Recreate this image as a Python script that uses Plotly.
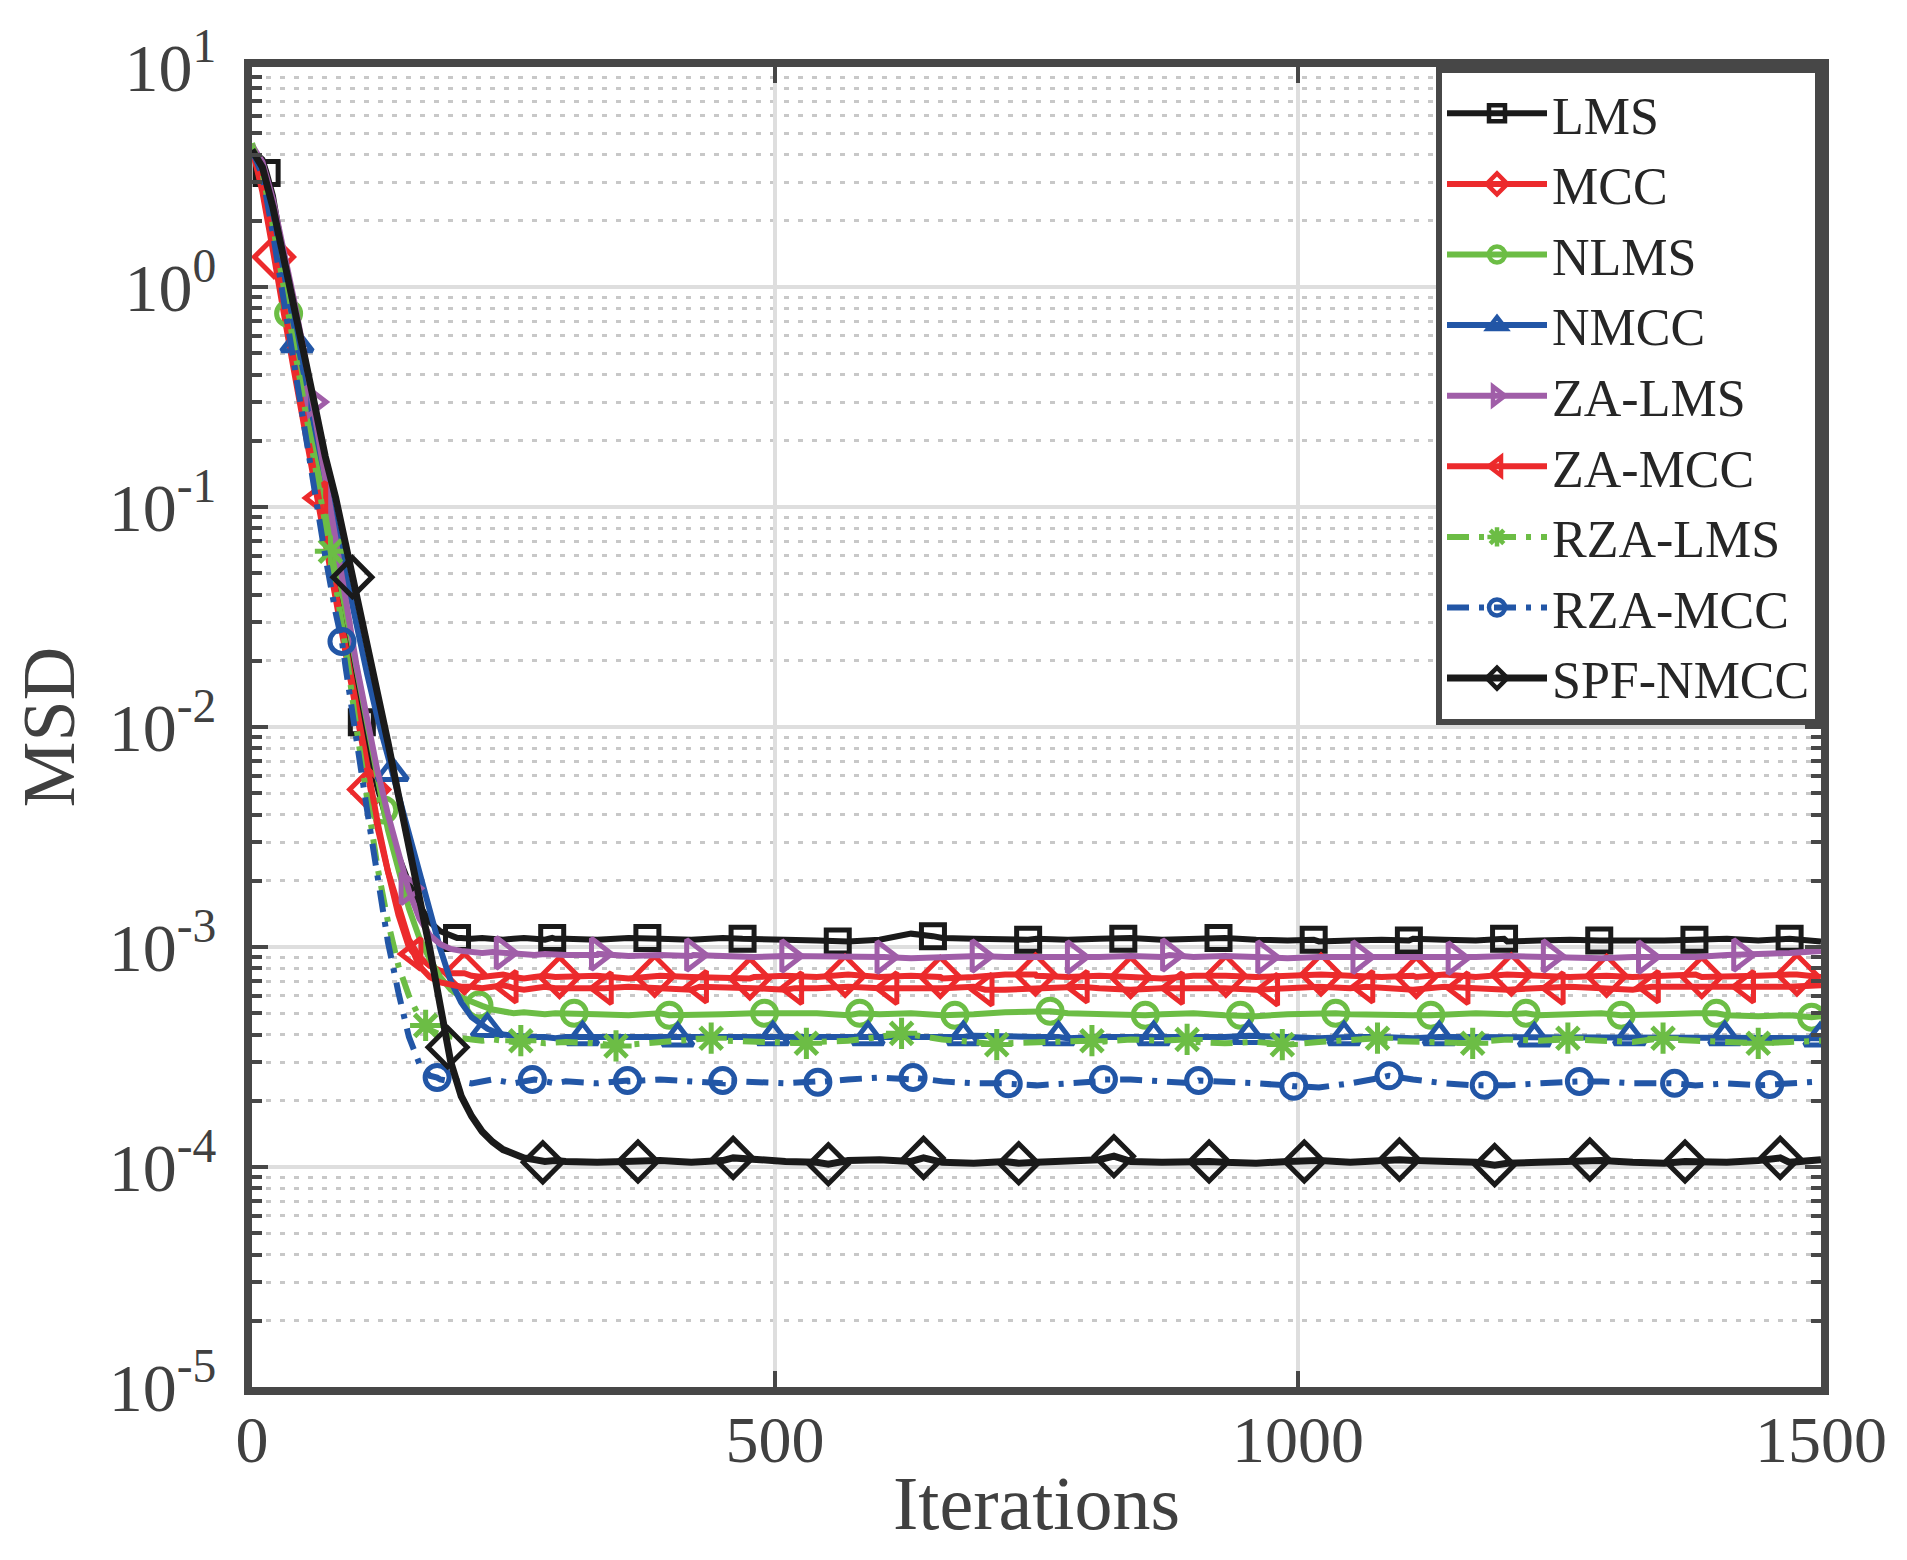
import plotly.graph_objects as go

# Iteraciones donde se leyeron las curvas
iter_trans = list(range(0, 300, 10))
iter_estable = list(range(300, 1501, 30))

# Primer marcador de cada curva y paso entre marcadores
paso_marca = 91
inicio_marca = {'LMS': 14, 'MCC': 21, 'NLMS': 35, 'NMCC': 43, 'ZA-LMS': 58,
                'ZA-MCC': 64, 'RZA-LMS': 75, 'RZA-MCC': 86, 'SPF-NMCC': 96}

# Datos (transitorio, régimen estable en unidades de 1e-4, marcadores)
lms_trans = [4.2, 3.8, 2.6, 1.36, 0.71, 0.37, 0.194, 0.101, 0.053, 0.0276, 0.0144, 8.2e-3,
             5.3e-3, 3.6e-3, 2.6e-3, 1.95e-3, 1.55e-3, 1.3e-3, 1.18e-3, 1.12e-3, 1.1e-3,
             1.09e-3, 1.1e-3, 1.09e-3, 1.08e-3, 1.09e-3, 1.1e-3, 1.09e-3, 1.08e-3, 1.09e-3]
lms_estable = [10.9, 10.8, 11.0, 10.9, 10.8, 11.0, 10.9, 10.8, 10.7, 10.6, 10.8, 11.5, 11.0, 10.9,
               10.8, 10.9, 10.8, 10.9, 11.0, 10.8, 10.9, 11.0, 10.8, 10.7, 10.6, 10.7, 10.8, 10.9,
               10.8, 10.7, 10.6, 10.7, 10.8, 10.7, 10.6, 10.7, 10.8, 10.9, 10.7, 10.8, 10.6]
lms_marcas = [3.3, 0.0105, 1.1e-3, 1.1e-3, 1.1e-3, 1.09e-3, 1.06e-3, 1.12e-3, 1.08e-3, 1.09e-3,
              1.1e-3, 1.08e-3, 1.07e-3, 1.09e-3, 1.07e-3, 1.08e-3, 1.09e-3]

mcc_trans = [4.3, 2.7, 1.47, 0.78, 0.42, 0.23, 0.125, 0.068, 0.037, 0.020, 0.0108, 5.9e-3,
             3.5e-3, 2.2e-3, 1.5e-3, 1.08e-3, 9.0e-4, 8.2e-4, 7.8e-4, 7.6e-4, 7.6e-4, 7.4e-4,
             7.3e-4, 7.4e-4, 7.5e-4, 7.3e-4, 7.2e-4, 7.3e-4, 7.4e-4, 7.3e-4]
mcc_estable = [7.3, 7.4, 7.2, 7.4, 7.3, 7.2, 7.3, 7.4, 7.3, 7.5, 7.3, 7.4, 7.2, 7.3, 7.5, 7.4,
               7.3, 7.4, 7.3, 7.2, 7.4, 7.5, 7.3, 7.4, 7.5, 7.4, 7.3, 7.4, 7.5, 7.3, 7.5, 7.4,
               7.3, 7.4, 7.3, 7.4, 7.5, 7.3, 7.4, 7.5, 7.3]
mcc_marcas = [1.37, 5.2e-3, 7.6e-4, 7.3e-4, 7.4e-4, 7.2e-4, 7.4e-4, 7.3e-4, 7.5e-4, 7.3e-4,
              7.4e-4, 7.5e-4, 7.3e-4, 7.5e-4, 7.4e-4, 7.3e-4, 7.5e-4]

nlms_trans = [4.5, 3.2, 1.9, 1.0, 0.57, 0.32, 0.18, 0.10, 0.056, 0.031, 0.0175, 9.8e-3, 5.6e-3,
              3.4e-3, 2.2e-3, 1.5e-3, 1.1e-3, 8.8e-4, 7.3e-4, 6.4e-4, 5.9e-4, 5.6e-4, 5.4e-4,
              5.2e-4, 5.1e-4, 5.0e-4, 5.05e-4, 5.0e-4, 4.95e-4, 5.0e-4]
nlms_estable = [5.0, 4.95, 4.9, 5.0, 4.9, 4.95, 5.0, 5.05, 5.0, 4.9, 4.95, 5.0, 4.9, 4.95, 5.05,
                5.1, 5.0, 4.95, 4.9, 4.95, 5.0, 4.9, 4.85, 4.95, 5.0, 4.95, 4.9, 4.9, 4.95, 5.0,
                4.95, 4.9, 4.95, 5.0, 4.9, 4.95, 5.0, 4.9, 4.85, 4.9, 4.85]
nlms_marcas = [0.757, 4.2e-3, 5.45e-4, 5.0e-4, 4.9e-4, 5.0e-4, 5.0e-4, 4.9e-4, 5.1e-4, 4.9e-4,
               4.9e-4, 5.0e-4, 4.9e-4, 5.0e-4, 4.9e-4, 5.0e-4, 4.8e-4]

nmcc_trans = [4.3, 3.4, 2.0, 1.15, 0.65, 0.39, 0.23, 0.136, 0.081, 0.048, 0.029, 0.0175, 0.011,
              7.3e-3, 5.0e-3, 3.3e-3, 2.2e-3, 1.45e-3, 9.8e-4, 7.0e-4, 5.6e-4, 4.8e-4, 4.4e-4,
              4.15e-4, 4.0e-4, 3.95e-4, 3.9e-4, 3.9e-4, 3.9e-4, 3.85e-4]
nmcc_estable = [3.9, 3.9, 3.85, 3.9, 3.85, 3.9, 3.9, 3.85, 3.9, 3.9, 3.85, 3.9, 3.9, 3.95, 3.9,
                3.9, 3.85, 3.9, 3.9, 3.85, 3.9, 3.9, 3.95, 3.9, 3.85, 3.9, 3.9, 3.85, 3.9, 3.9,
                3.85, 3.9, 3.85, 3.9, 3.9, 3.85, 3.9, 3.9, 3.85, 3.9, 3.85]
nmcc_marcas = [0.55, 6.2e-3, 4.25e-4, 3.9e-4, 3.85e-4, 3.9e-4, 3.9e-4, 3.9e-4, 3.9e-4, 3.9e-4,
               3.95e-4, 3.9e-4, 3.9e-4, 3.85e-4, 3.9e-4, 3.9e-4, 3.85e-4]

zalms_trans = [4.4, 3.7, 2.5, 1.5, 0.88, 0.5, 0.27, 0.14, 0.072, 0.037, 0.019, 0.0105, 6.3e-3,
               4.0e-3, 2.6e-3, 1.8e-3, 1.35e-3, 1.13e-3, 1.03e-3, 9.8e-4, 9.6e-4, 9.5e-4, 9.4e-4,
               9.5e-4, 9.4e-4, 9.3e-4, 9.3e-4, 9.2e-4, 9.3e-4, 9.2e-4]
zalms_estable = [9.2, 9.2, 9.1, 9.2, 9.1, 9.1, 9.0, 9.1, 9.0, 9.1, 9.0, 8.9, 9.0, 9.1, 9.0, 9.0,
                 8.9, 9.0, 9.1, 9.0, 9.0, 9.1, 9.0, 8.9, 9.0, 9.0, 8.9, 9.0, 8.9, 9.0, 9.1, 9.0,
                 9.0, 8.9, 9.0, 9.1, 9.0, 9.2, 9.3, 9.4, 9.6]
zalms_marcas = [0.3, 1.85e-3, 9.4e-4, 9.3e-4, 9.2e-4, 9.1e-4, 9.0e-4, 9.1e-4, 9.0e-4, 9.2e-4,
                9.0e-4, 9.0e-4, 8.9e-4, 9.1e-4, 9.0e-4, 9.2e-4]

zamcc_trans = [4.3, 2.8, 1.55, 0.84, 0.46, 0.25, 0.135, 0.075, 0.041, 0.022, 0.012, 6.6e-3,
               3.7e-3, 2.2e-3, 1.4e-3, 1.0e-3, 8.2e-4, 7.3e-4, 6.9e-4, 6.7e-4, 6.6e-4, 6.6e-4,
               6.5e-4, 6.6e-4, 6.7e-4, 6.5e-4, 6.4e-4, 6.5e-4, 6.6e-4, 6.5e-4]
zamcc_estable = [6.5, 6.4, 6.6, 6.5, 6.4, 6.6, 6.5, 6.4, 6.5, 6.6, 6.5, 6.4, 6.5, 6.6, 6.4, 6.5,
                 6.6, 6.5, 6.4, 6.5, 6.6, 6.5, 6.4, 6.5, 6.6, 6.5, 6.5, 6.4, 6.6, 6.5, 6.4, 6.5,
                 6.6, 6.5, 6.4, 6.6, 6.5, 6.6, 6.5, 6.6, 6.7]
zamcc_marcas = [0.11, 9.3e-4, 6.6e-4, 6.5e-4, 6.6e-4, 6.5e-4, 6.5e-4, 6.4e-4, 6.6e-4, 6.5e-4,
                6.4e-4, 6.6e-4, 6.5e-4, 6.5e-4, 6.6e-4, 6.6e-4]

rzalms_trans = [4.4, 3.3, 1.9, 1.0, 0.54, 0.29, 0.15, 0.084, 0.045, 0.022, 9.8e-3, 4.6e-3,
                2.3e-3, 1.3e-3, 8.2e-4, 6.0e-4, 4.8e-4, 4.2e-4, 4.0e-4, 3.9e-4, 3.85e-4, 3.8e-4,
                3.75e-4, 3.8e-4, 3.75e-4, 3.7e-4, 3.75e-4, 3.7e-4, 3.65e-4, 3.7e-4]
rzalms_estable = [3.7, 3.65, 3.6, 3.7, 3.8, 3.75, 3.7, 3.65, 3.7, 3.75, 3.9, 4.0, 3.8, 3.7, 3.65,
                  3.7, 3.75, 3.7, 3.8, 3.75, 3.7, 3.65, 3.7, 3.6, 3.7, 3.8, 3.75, 3.7, 3.65, 3.7,
                  3.8, 3.75, 3.8, 3.75, 3.7, 3.8, 3.75, 3.7, 3.65, 3.7, 3.75]
rzalms_marcas = [0.063, 4.4e-4, 3.75e-4, 3.55e-4, 3.85e-4, 3.65e-4, 4.05e-4, 3.6e-4, 3.75e-4,
                 3.8e-4, 3.6e-4, 3.85e-4, 3.65e-4, 3.85e-4, 3.85e-4, 3.65e-4]

rzamcc_trans = [4.2, 3.2, 1.75, 0.88, 0.44, 0.22, 0.113, 0.06, 0.033, 0.018, 8.4e-3, 4.2e-3,
                2.1e-3, 1.05e-3, 6.2e-4, 3.9e-4, 2.95e-4, 2.6e-4, 2.5e-4, 2.45e-4, 2.45e-4, 2.4e-4,
                2.45e-4, 2.5e-4, 2.45e-4, 2.4e-4, 2.45e-4, 2.5e-4, 2.45e-4, 2.4e-4]
rzamcc_estable = [2.45, 2.4, 2.45, 2.5, 2.45, 2.4, 2.45, 2.4, 2.45, 2.5, 2.55, 2.5, 2.45, 2.4,
                  2.4, 2.35, 2.4, 2.45, 2.5, 2.45, 2.4, 2.45, 2.4, 2.35, 2.3, 2.4, 2.55, 2.5, 2.4,
                  2.35, 2.35, 2.4, 2.45, 2.45, 2.4, 2.4, 2.35, 2.4, 2.35, 2.4, 2.45]
rzamcc_marcas = [0.0245, 2.55e-4, 2.5e-4, 2.47e-4, 2.47e-4, 2.43e-4, 2.55e-4, 2.39e-4, 2.5e-4,
                 2.47e-4, 2.33e-4, 2.6e-4, 2.35e-4, 2.45e-4, 2.4e-4, 2.37e-4]

spf_trans = [4.2, 3.5, 2.3, 1.4, 0.83, 0.49, 0.29, 0.17, 0.11, 0.066, 0.040, 0.025, 0.0145,
             8.5e-3, 4.9e-3, 2.9e-3, 1.7e-3, 9.8e-4, 5.4e-4, 3.0e-4, 2.1e-4, 1.7e-4, 1.45e-4,
             1.3e-4, 1.2e-4, 1.14e-4, 1.1e-4, 1.08e-4, 1.06e-4, 1.07e-4]
spf_estable = [1.06, 1.05, 1.06, 1.07, 1.05, 1.07, 1.08, 1.06, 1.05, 1.07, 1.08, 1.06, 1.05, 1.04,
               1.06, 1.05, 1.07, 1.08, 1.06, 1.05, 1.06, 1.05, 1.04, 1.06, 1.07, 1.05, 1.08, 1.07,
               1.06, 1.05, 1.04, 1.05, 1.06, 1.07, 1.05, 1.04, 1.06, 1.05, 1.07, 1.05, 1.08]
spf_marcas = [0.048, 3.5e-4, 1.05e-4, 1.06e-4, 1.1e-4, 1.03e-4, 1.1e-4, 1.04e-4, 1.12e-4,
              1.06e-4, 1.06e-4, 1.08e-4, 1.02e-4, 1.08e-4, 1.06e-4, 1.1e-4]

# Estilo de cada curva: nombre, datos, color, trazo, símbolo, tamaño, grosor
negro = '#1a1a1a'
rojo = '#ec2a2c'
verde = '#6cbd45'
azul = '#2256a6'
morado = '#a05ea8'
punteado = '22px,10px,5px,10px'

curvas = [
    ('LMS', lms_trans, lms_estable, lms_marcas, negro, 'solid', 'square-open', 23, 6),
    ('MCC', mcc_trans, mcc_estable, mcc_marcas, rojo, 'solid', 'diamond-open', 30, 6),
    ('NLMS', nlms_trans, nlms_estable, nlms_marcas, verde, 'solid', 'circle-open', 24, 6),
    ('NMCC', nmcc_trans, nmcc_estable, nmcc_marcas, azul, 'solid', 'triangle-up-open', 27, 6),
    ('ZA-LMS', zalms_trans, zalms_estable, zalms_marcas, morado, 'solid', 'triangle-right-open', 27, 6),
    ('ZA-MCC', zamcc_trans, zamcc_estable, zamcc_marcas, rojo, 'solid', 'triangle-left-open', 27, 6),
    ('RZA-LMS', rzalms_trans, rzalms_estable, rzalms_marcas, verde, punteado, 'asterisk-open', 26, 6),
    ('RZA-MCC', rzamcc_trans, rzamcc_estable, rzamcc_marcas, azul, punteado, 'circle-open', 24, 6),
    ('SPF-NMCC', spf_trans, spf_estable, spf_marcas, negro, 'solid', 'diamond-open', 30, 7),
]

fig = go.Figure()

for nombre, trans, estable, marcas, color, trazo, simbolo, tam, grosor in curvas:
    x_marca = list(range(inicio_marca[nombre], 1501, paso_marca))[:len(marcas)]
    # La curva pasa por los puntos leídos y por los marcadores
    puntos = sorted(zip(iter_trans + iter_estable + x_marca,
                        trans + [v * 1e-4 for v in estable] + marcas))
    fig.add_trace(go.Scatter(
        x=[p[0] for p in puntos], y=[p[1] for p in puntos], mode='lines',
        line=dict(color=color, width=grosor, dash=trazo),
        showlegend=False, hoverinfo='skip'))
    fig.add_trace(go.Scatter(
        x=x_marca, y=marcas, mode='markers',
        marker=dict(symbol=simbolo, size=tam, color=color, line=dict(color=color, width=5)),
        showlegend=False, hoverinfo='skip'))
    # Entrada de leyenda con línea y marcador
    fig.add_trace(go.Scatter(
        x=[None], y=[None], mode='lines+markers', name=nombre,
        line=dict(color=color, width=grosor, dash=trazo),
        marker=dict(symbol=simbolo, size=tam, color=color, line=dict(color=color, width=4.5))))

# Ejes
eje = '#474747'
fig.update_xaxes(
    range=[0, 1500], tickvals=[0, 500, 1000, 1500],
    showgrid=True, gridcolor='#dedede', gridwidth=4,
    showline=True, linecolor=eje, linewidth=8, mirror='ticks',
    ticks='inside', ticklen=16, tickwidth=4, tickcolor=eje,
    zeroline=False, tickfont=dict(size=66), ticklabelstandoff=-12,
    title=dict(text='Iterations', font=dict(size=76), standoff=4))

fig.update_yaxes(
    type='log', range=[-5, 1],
    tickvals=[1e-5, 1e-4, 1e-3, 1e-2, 1e-1, 1, 10],
    ticktext=['10<sup>-5</sup>', '10<sup>-4</sup>', '10<sup>-3</sup>', '10<sup>-2</sup>',
              '10<sup>-1</sup>', '10<sup>0</sup>', '10<sup>1</sup>'],
    showgrid=True, gridcolor='#dedede', gridwidth=4,
    showline=True, linecolor=eje, linewidth=8, mirror='ticks',
    ticks='inside', ticklen=16, tickwidth=4, tickcolor=eje,
    minor=dict(ticks='inside', ticklen=10, tickwidth=4, tickcolor=eje, dtick='D1',
               showgrid=True, gridcolor='#c8c8c8', gridwidth=3, griddash='5px,9px'),
    zeroline=False, tickfont=dict(size=68), ticklabelstandoff=14,
    title=dict(text='MSD', font=dict(size=74), standoff=14))

# Estética
fig.update_layout(
    width=1907,
    height=1560,
    margin=dict(l=244, r=94, t=59, b=181),
    plot_bgcolor='white',
    paper_bgcolor='white',
    font=dict(family='Liberation Serif', size=62, color='#404040'),
    legend=dict(x=1, y=1, xanchor='right', yanchor='top', bgcolor='white',
                bordercolor=eje, borderwidth=6, itemwidth=100,
                font=dict(size=52, color='#262626'))
)

fig.write_html("out.html")
